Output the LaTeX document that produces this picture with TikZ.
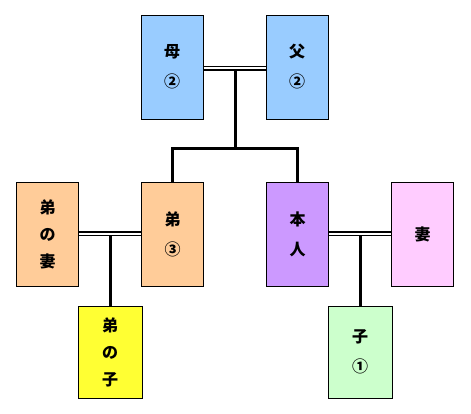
\documentclass[tikz,border=0pt]{standalone}
\usepackage{fontspec}
\newfontfamily\cjk{Noto Sans CJK JP}
\definecolor{cblue}{HTML}{99CCFF}
\definecolor{corange}{HTML}{FFCC99}
\definecolor{cpurple}{HTML}{CC99FF}
\definecolor{cpink}{HTML}{FFCCFF}
\definecolor{cyellow}{HTML}{FFFF33}
\definecolor{cgreen}{HTML}{CCFFCC}
\begin{document}
\begin{tikzpicture}[x=1pt,y=-1pt,
  person/.style={draw=black,line width=1pt,minimum width=62pt,minimum height=104pt,inner sep=0pt,
    align=center,font=\cjk\bfseries\fontsize{16}{27}\selectfont},
  two/.style={font=\cjk\bfseries\fontsize{16}{30}\selectfont},
  small/.style={person,minimum width=64pt,minimum height=92pt},
  marriage/.style={line width=1.5pt,double=white,double distance=2pt,draw=black},
  kin/.style={line width=3pt,draw=black}]
\useasboundingbox (0,0) rectangle (471,413);
\node[person,two,fill=cblue] (mother) at (172,67) {母\\②};
\node[person,two,fill=cblue] (father) at (297,67) {父\\②};
\node[person,fill=corange] (bwife) at (47.5,234) {弟\\の\\妻};
\node[person,two,fill=corange] (brother) at (172.5,234) {弟\\③};
\node[person,two,fill=cpurple] (self) at (297.5,234) {本\\人};
\node[person,fill=cpink] (wife) at (422.5,234) {妻};
\node[small,fill=cyellow] (bchild) at (110,352) {弟\\の\\子};
\node[small,two,fill=cgreen] (child) at (360,352) {子\\①};
% parents
\draw[marriage] (mother.east |- 0,68) -- (father.west |- 0,68);
\coordinate (pj) at (235,148);
\draw[kin] (235,70) -- (pj);
\draw[kin,line cap=rect] (brother.north |- pj) -- (self.north |- pj);
\draw[kin] (brother.north |- pj) -- (brother.north);
\draw[kin] (self.north |- pj) -- (self.north);
% brother family
\draw[marriage] (bwife.east |- 0,233.5) -- (brother.west |- 0,233.5);
\draw[kin] (bchild.north |- 0,235.5) -- (bchild.north);
% self family
\draw[marriage] (self.east |- 0,233.5) -- (wife.west |- 0,233.5);
\draw[kin] (child.north |- 0,235.5) -- (child.north);
\end{tikzpicture}
\end{document}
